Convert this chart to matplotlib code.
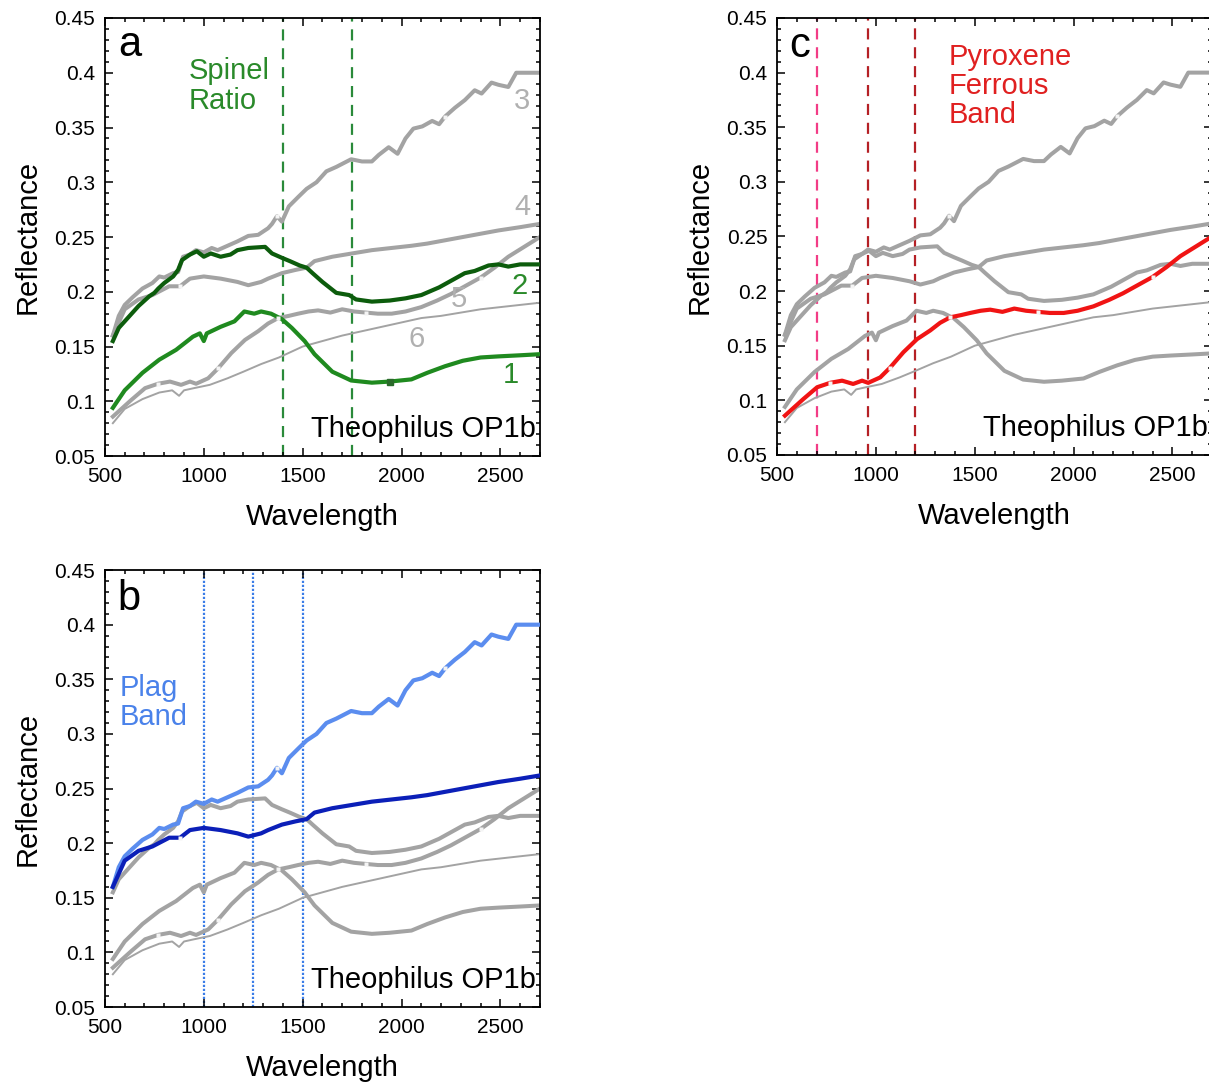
import matplotlib.pyplot as plt
from matplotlib.ticker import MultipleLocator, FormatStrFormatter

plt.rcParams['font.family'] = ['Liberation Sans', 'DejaVu Sans']

# Spectra: wavelength (nm) and reflectance
wl_1 = [540, 600, 690, 775, 860, 945, 980, 1000, 1015, 1085, 1155, 1205, 1255, 1290, 1340,
        1395, 1445, 1510, 1560, 1650, 1745, 1850, 1940, 2050, 2130, 2220, 2310, 2400, 2490, 2600, 2700]
refl_1 = [0.094, 0.110, 0.126, 0.138, 0.147, 0.159, 0.162, 0.155, 0.162, 0.168, 0.173, 0.182, 0.180, 0.182, 0.180,
          0.175, 0.167, 0.155, 0.143, 0.127, 0.119, 0.117, 0.118, 0.120, 0.126, 0.132, 0.137, 0.140, 0.141, 0.142, 0.143]

wl_2 = [540, 570, 620, 670, 725, 750, 770, 800, 845, 870, 890, 930, 965, 1000, 1035, 1085, 1135, 1170,
        1225, 1310, 1345, 1395, 1435, 1485, 1520, 1550, 1600, 1670, 1735, 1770, 1850, 1940, 2020, 2100,
        2190, 2270, 2320, 2370, 2440, 2490, 2540, 2600, 2700]
refl_2 = [0.155, 0.167, 0.177, 0.187, 0.196, 0.199, 0.203, 0.208, 0.214, 0.220, 0.229, 0.234, 0.237, 0.232,
          0.235, 0.232, 0.234, 0.238, 0.240, 0.241, 0.235, 0.231, 0.228, 0.224, 0.222, 0.217, 0.209, 0.199,
          0.197, 0.193, 0.191, 0.192, 0.194, 0.197, 0.204, 0.212, 0.217, 0.219, 0.224, 0.225, 0.223, 0.225, 0.225]

wl_3 = [540, 570, 600, 640, 690, 740, 775, 800, 845, 870, 895, 930, 960, 1000, 1040, 1070, 1120, 1170,
        1225, 1275, 1325, 1345, 1370, 1395, 1430, 1480, 1520, 1570, 1620, 1670, 1745, 1800, 1850, 1885,
        1935, 1980, 2020, 2060, 2105, 2155, 2190, 2220, 2270, 2320, 2370, 2405, 2455, 2490, 2540, 2580,
        2620, 2700]
refl_3 = [0.160, 0.178, 0.188, 0.195, 0.203, 0.208, 0.214, 0.213, 0.217, 0.218, 0.232, 0.234, 0.238, 0.236,
          0.240, 0.238, 0.242, 0.246, 0.251, 0.252, 0.258, 0.262, 0.269, 0.264, 0.278, 0.287, 0.294, 0.300,
          0.310, 0.314, 0.321, 0.319, 0.319, 0.325, 0.332, 0.326, 0.340, 0.349, 0.351, 0.356, 0.353, 0.360,
          0.368, 0.375, 0.384, 0.381, 0.391, 0.389, 0.387, 0.400, 0.400, 0.400]

wl_4 = [540, 600, 670, 740, 825, 880, 930, 1000, 1085, 1170, 1225, 1290, 1325, 1395, 1465, 1520, 1560,
        1650, 1750, 1850, 1950, 2050, 2130, 2220, 2310, 2400, 2490, 2600, 2700]
refl_4 = [0.160, 0.184, 0.193, 0.197, 0.205, 0.205, 0.212, 0.214, 0.212, 0.209, 0.206, 0.209, 0.212, 0.217,
          0.220, 0.222, 0.228, 0.232, 0.235, 0.238, 0.240, 0.242, 0.244, 0.247, 0.250, 0.253, 0.256, 0.259, 0.262]

wl_5 = [540, 632, 703, 768, 829, 885, 930, 961, 1022, 1072, 1139, 1208, 1275, 1325, 1376, 1430, 1477,
        1530, 1578, 1640, 1700, 1760, 1820, 1880, 1950, 2020, 2100, 2180, 2250, 2320, 2400, 2470, 2540,
        2620, 2700]
refl_5 = [0.086, 0.101, 0.112, 0.116, 0.118, 0.115, 0.118, 0.116, 0.121, 0.130, 0.144, 0.156, 0.164, 0.171,
          0.176, 0.178, 0.180, 0.182, 0.183, 0.181, 0.184, 0.182, 0.181, 0.180, 0.180, 0.182, 0.186, 0.192,
          0.198, 0.205, 0.213, 0.222, 0.232, 0.241, 0.250]

wl_6 = [540, 600, 690, 775, 840, 875, 900, 950, 1030, 1120, 1200, 1290, 1380, 1500, 1600, 1700, 1800,
        1900, 2000, 2100, 2200, 2300, 2400, 2500, 2600, 2700]
refl_6 = [0.080, 0.093, 0.102, 0.108, 0.110, 0.105, 0.110, 0.112, 0.115, 0.121, 0.127, 0.134, 0.140, 0.150,
          0.155, 0.160, 0.164, 0.168, 0.172, 0.176, 0.178, 0.181, 0.184, 0.186, 0.188, 0.190]

spectra = [(wl_1, refl_1), (wl_2, refl_2), (wl_3, refl_3), (wl_4, refl_4), (wl_5, refl_5), (wl_6, refl_6)]
widths = [2.9, 2.9, 2.9, 2.9, 2.9, 1.4]

# small white gaps where the detector segments join (indices into the spectra)
joints = {2: [22, 41], 3: [5], 4: [3, 9, 14, 22, 30]}

# band positions marked in each panel
spinel_lines = [1400, 1750]
plag_lines = [1000, 1250, 1500]
pyx_lines = [700, 960, 1200]

# curve number labels of panel a: (text, wavelength, reflectance)
curve_labels = [("3", 2611, 0.374), ("4", 2611, 0.277), ("2", 2599, 0.205),
                ("5", 2288, 0.193), ("6", 2077, 0.157), ("1", 2554, 0.124)]

GRAY = '#a3a3a3'


def style_axes(ax):
    ax.set_xlim(500, 2700)
    ax.set_ylim(0.05, 0.45)
    ax.xaxis.set_major_locator(MultipleLocator(500))
    ax.xaxis.set_minor_locator(MultipleLocator(100))
    ax.yaxis.set_major_locator(MultipleLocator(0.05))
    ax.yaxis.set_minor_locator(MultipleLocator(0.01))
    ax.yaxis.set_major_formatter(FormatStrFormatter('%g'))
    ax.tick_params(which='both', direction='in', top=True, right=True, width=1.1, labelsize=15)
    ax.tick_params(axis='x', pad=8)
    ax.tick_params(axis='y', pad=7)
    ax.tick_params(which='major', length=6)
    ax.tick_params(which='minor', length=3)
    for s in ax.spines.values():
        s.set_linewidth(1.3)
    ax.set_xlabel("Wavelength", fontsize=21, labelpad=12)
    ax.set_ylabel("Reflectance", fontsize=21, labelpad=9)
    ax.text(2680, 0.067, "Theophilus OP1b", fontsize=21, ha='right', va='baseline')


def draw_spectra(ax, colors):
    # gray first, highlighted curves on top
    for i, (wl, r) in enumerate(spectra):
        if i not in colors:
            ax.plot(wl, r, color=GRAY, lw=widths[i], zorder=2)
    for i, c in colors.items():
        wl, r = spectra[i]
        ax.plot(wl, r, color=c, lw=3.0, zorder=3)
    for i, idx in joints.items():
        wl, r = spectra[i]
        ax.plot(wl, r, ls='none', marker='s', ms=2.5, mfc='#f4f4f4', mec='none',
                markevery=idx, zorder=4)


fig = plt.figure(figsize=(12.09, 10.84), dpi=100)
ax_a = fig.add_axes([0.0868, 0.5793, 0.3598, 0.4041])
ax_c = fig.add_axes([0.6427, 0.5803, 0.3598, 0.4031])
ax_b = fig.add_axes([0.0868, 0.0710, 0.3598, 0.4031])

# panel a - spinel ratio
draw_spectra(ax_a, {0: '#1f8a1f', 1: '#0c5c0c'})
ax_a.plot(wl_1[22], refl_1[22], marker='s', ms=4, color='#2a6a2a', zorder=4)
for x in spinel_lines:
    ax_a.axvline(x, color='#2a8a3a', lw=1.6, ls=(0, (5, 3.5)), zorder=1)
ax_a.text(565, 0.415, "a", fontsize=30, va='baseline')
ax_a.text(925, 0.414, "Spinel\nRatio", fontsize=21, color='#2a8a2a', va='top', linespacing=1.05)
for t, x, y in curve_labels:
    col = '#2a8a2a' if t in ("1", "2") else '#b0b0b0'
    ax_a.text(x, y, t, fontsize=21, color=col, ha='center', va='center')
style_axes(ax_a)

# panel b - plagioclase band
draw_spectra(ax_b, {2: '#5b8def', 3: '#0b1fb8'})
for x in plag_lines:
    ax_b.axvline(x, color='#3a7de8', lw=1.6, ls=(0, (1, 0.8)), zorder=1)
ax_b.text(565, 0.413, "b", fontsize=30, va='baseline')
ax_b.text(575, 0.355, "Plag\nBand", fontsize=21, color='#4a82ea', va='top', linespacing=1.05)
style_axes(ax_b)

# panel c - pyroxene ferrous band
draw_spectra(ax_c, {4: '#f01414'})
ax_c.axvline(pyx_lines[0], color='#f23c86', lw=1.6, ls=(0, (5, 3.5)), zorder=1)
for x in pyx_lines[1:]:
    ax_c.axvline(x, color='#b52025', lw=1.6, ls=(0, (5, 3.5)), zorder=1)
ax_c.text(560, 0.414, "c", fontsize=30, va='baseline')
ax_c.text(1370, 0.427, "Pyroxene\nFerrous\nBand", fontsize=21, color='#e02020', va='top', linespacing=1.05)
style_axes(ax_c)

fig.savefig("out.png", dpi=100)
